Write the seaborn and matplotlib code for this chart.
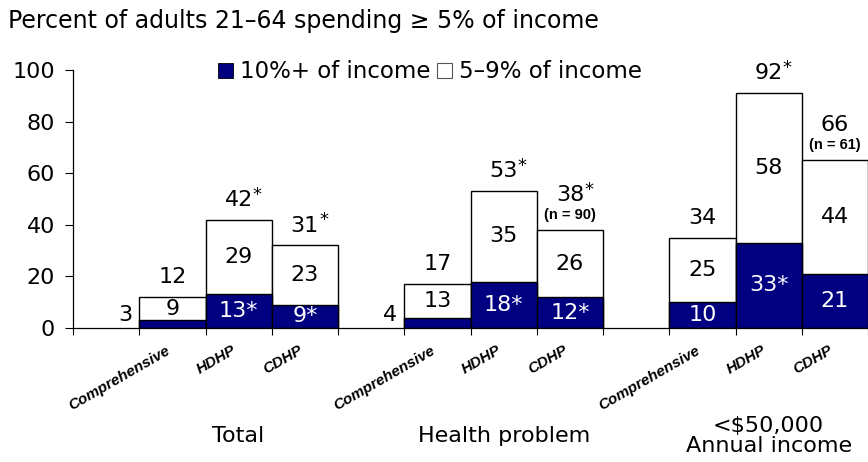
import pandas as pd
import matplotlib.pyplot as plt
import seaborn as sns
from matplotlib.patches import Patch

groups = ['Total', 'Health problem', '<$50,000\nAnnual income']
plans = ['Comprehensive', 'HDHP', 'CDHP']

# 10%+ of income (navy) and 5-9% of income (white) segments
high = [3, 13, 9, 4, 18, 12, 10, 33, 21]
mid = [9, 29, 23, 13, 35, 26, 25, 58, 44]
high_labels = ['3', '13*', '9*', '4', '18*', '12*', '10', '33*', '21']
total_labels = ['12', '42', '31', '17', '53', '38', '34', '92', '66']
total_star = [False, True, True, False, True, True, False, True, False]
notes = ['', '', '', '', '', '(n = 90)', '', '', '(n = 61)']

NAVY = '#000080'
MAIN = 'DejaVu Sans'
FS = 16

keys = [f'{g}|{p}' for g in groups for p in plans]
order = []
for gi, g in enumerate(groups):
    order.append(f'gap{gi}')
    order += [f'{g}|{p}' for p in plans]

df = pd.DataFrame({'slot': keys, 'high': high, 'mid': mid})
df['total'] = df['high'] + df['mid']

sns.set_style('white')
plt.rcParams['font.family'] = [MAIN]
plt.rcParams['text.color'] = 'black'
plt.rcParams['xtick.color'] = 'black'
plt.rcParams['ytick.color'] = 'black'

fig = plt.figure(figsize=(8.68, 4.62), dpi=100)
ax = fig.add_axes([73 / 868, 1 - 328 / 462, (868 - 73) / 868, (328 - 70) / 462])

sns.barplot(data=df, x='slot', y='total', order=order, color='white',
            edgecolor='black', linewidth=1, width=1.0, saturation=1,
            errorbar=None, ax=ax)
sns.barplot(data=df, x='slot', y='high', order=order, color=NAVY,
            edgecolor='black', linewidth=1, width=1.0, saturation=1,
            errorbar=None, ax=ax)

ax.set_ylim(0, 100)
ax.set_xlim(-0.5, 11.47)
ax.set_xlabel('')
ax.set_ylabel('')
ax.set_yticks(range(0, 101, 20))
ax.tick_params(axis='y', labelsize=FS, length=6, width=0.8, pad=7,
               direction='out', left=True)
ax.set_xticks([i - 0.5 for i in range(len(order) + 1)])
ax.set_xticklabels([])
ax.tick_params(axis='x', length=5, width=0.8, direction='out', bottom=True)
for s in ['top', 'right']:
    ax.spines[s].set_visible(False)
for s in ['left', 'bottom']:
    ax.spines[s].set_color('black')
    ax.spines[s].set_linewidth(0.9)

for i, k in enumerate(keys):
    x = order.index(k)
    h = df.loc[i, 'high']
    t = df.loc[i, 'total']
    p = plans[i % 3]
    # plan label under the bar
    ax.annotate(p, xy=(x, 0), xycoords=('data', 'axes fraction'),
                xytext=(-5, -11), textcoords='offset points',
                rotation=30, rotation_mode='anchor', ha='right', va='top',
                fontsize=11, fontweight='bold', fontstyle='italic',
                family='Liberation Sans')
    # 10%+ segment label
    if p == 'Comprehensive' and h < 8:
        ax.annotate(high_labels[i], xy=(x - 0.5, 5), xytext=(-5, 0),
                    textcoords='offset points', ha='right', va='center',
                    fontsize=FS)
    else:
        ax.text(x, h / 2, high_labels[i], ha='center', va='center',
                fontsize=FS, color='white')
    # 5-9% segment label
    ax.text(x, h + df.loc[i, 'mid'] / 2, str(mid[i]), ha='center',
            va='center', fontsize=FS)
    # total on top
    off = 10
    if notes[i]:
        ax.annotate(notes[i], xy=(x, t), xytext=(0, 8),
                    textcoords='offset points', ha='center', va='baseline',
                    fontsize=10.5, fontweight='bold', family='Liberation Sans')
        off = 21
    num = ax.annotate(total_labels[i], xy=(x, t), xytext=(0, off),
                      textcoords='offset points', ha='center', va='baseline',
                      fontsize=FS)
    if total_star[i]:
        ax.annotate('*', xy=(1, 1), xycoords=num, xytext=(0, 3),
                    textcoords='offset points', ha='left', va='top',
                    fontsize=13)

for gi, g in enumerate(groups):
    x = order.index(f'{g}|HDHP')
    ax.annotate(g, xy=(x, 0), xycoords=('data', 'axes fraction'),
                xytext=(0, -78), textcoords='offset points',
                ha='center', va='center', fontsize=FS, linespacing=1.0,
                annotation_clip=False)

handles = [Patch(facecolor=NAVY, edgecolor='black', linewidth=0.6),
           Patch(facecolor='white', edgecolor='#555555', linewidth=0.8)]
fig.legend(handles, ['10%+ of income', '5\u20139% of income'], ncol=2,
           loc='center left', bbox_to_anchor=(218 / 868, 1 - 72 / 462),
           frameon=False, fontsize=FS + 0.5, handlelength=0.65,
           handleheight=0.65, handletextpad=0.3, columnspacing=0.3,
           borderpad=0, borderaxespad=0)

fig.text(8 / 868, 1 - 21 / 462,
         'Percent of adults 21\u201364 spending \u2265 5% of income',
         ha='left', va='center', fontsize=17)

fig.savefig('out.png', dpi=100)
